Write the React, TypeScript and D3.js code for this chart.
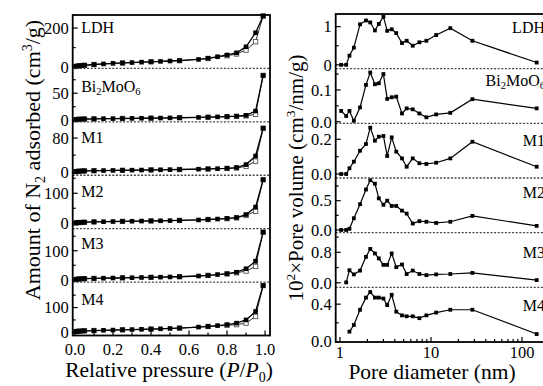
import React from 'react';
import * as d3 from 'd3';

const W = 543;
const H = 386;
const FONT = "'Liberation Serif', 'Times New Roman', Times, Tinos, 'Noto Serif', 'DejaVu Serif', FreeSerif, serif";

// ---------- Left panel: N2 isotherms ----------
const sampleNames = ['LDH', 'Bi2MoO6', 'M1', 'M2', 'M3', 'M4'];
const pAds = [0.005, 0.01, 0.02, 0.03, 0.04, 0.05, 0.1, 0.15, 0.2, 0.25, 0.3, 0.35, 0.4, 0.45, 0.5, 0.55, 0.65, 0.7, 0.75, 0.8, 0.85, 0.9, 0.95, 0.99];
const pDes = [0.99, 0.95, 0.9, 0.85, 0.8, 0.7, 0.55, 0.4, 0.25, 0.1, 0.05, 0.02, 0.005];

const adsLDH = [3, 5, 6, 7, 8, 9, 13, 16, 19, 21, 23, 25, 27, 29, 31, 33, 39, 45, 53, 62, 73, 104, 176, 262];
const adsBi = [1, 1.5, 1.8, 2, 2.1, 2.2, 2.5, 2.8, 3, 3.2, 3.4, 3.6, 3.8, 4, 4.3, 4.6, 5.2, 5.6, 6.2, 6.8, 7.5, 9, 17, 83];
const adsM1 = [1.5, 2, 2.5, 2.8, 3, 3.2, 3.6, 4, 4.3, 4.6, 4.9, 5.2, 5.5, 5.8, 6.1, 6.4, 7.2, 7.7, 8.4, 9.2, 11, 18, 38, 103];
const adsM2 = [1, 2, 2.5, 3, 3.3, 3.6, 4.5, 5.2, 5.8, 6.3, 6.8, 7.3, 7.8, 8.3, 8.8, 9.5, 11, 12.5, 14, 16, 19, 29, 54, 145];
const adsM3 = [1, 2, 2.5, 3, 3.3, 3.6, 4.5, 5.3, 6, 6.6, 7.2, 7.8, 8.4, 9, 9.6, 10.4, 13, 15, 18, 21, 26, 38, 64, 164];
const adsM4 = [3, 4, 4.5, 5, 5.5, 6, 7, 8, 9, 10, 11, 12, 13, 14, 15.5, 17, 21, 23.5, 27, 31, 37, 50, 84, 189];

const desLDH = [262, 130, 87, 67, 58, 44, 33, 27, 21, 13, 9, 6, 3];
const desBi = [83, 11, 8, 7, 6.6, 5.5, 4.6, 3.8, 3.2, 2.5, 2.2, 1.8, 1];
const desM1 = [103, 26, 14, 10, 9, 7.7, 6.4, 5.5, 4.6, 3.6, 3.2, 2.5, 1.5];
const desM2 = [145, 40, 26, 18, 15.5, 12.5, 9.5, 7.8, 6.3, 4.5, 3.6, 2.5, 1];
const desM3 = [164, 46, 30, 24, 20, 15, 10.4, 8.4, 6.6, 4.5, 3.6, 2.5, 1];
const desM4 = [189, 64, 37, 31, 28, 23.5, 17, 13, 10, 7, 6, 4.5, 3];

const adsAll = [adsLDH, adsBi, adsM1, adsM2, adsM3, adsM4];
const desAll = [desLDH, desBi, desM1, desM2, desM3, desM4];

const leftDomains = [[-7, 267], [-3, 96], [-7, 118], [-18, 160], [-8, 176], [-13, 203]];
const leftMajor = [[0, 200], [0, 50], [0, 80], [0, 100], [0, 100], [0, 100]];
const leftMinor = [[100], [25, 75], [40], [50, 150], [50, 150], [50, 150]];
const leftXMajor = [0, 0.2, 0.4, 0.6, 0.8, 1.0];
const leftXMinor = [0.1, 0.3, 0.5, 0.7, 0.9];

// ---------- Right panel: pore size distribution ----------
const poreD = [1.03, 1.17, 1.27, 1.42, 1.66, 1.93, 2.15, 2.42, 2.67, 3.0, 3.3, 3.7, 4.15, 4.8, 5.4, 6.3, 7.45, 8.9, 11.4, 16.3, 28.5, 145];
const pvLDH = [0, 0, 0.24, 0.45, 1.06, 1.16, 1.11, 0.9, 1.07, 1.26, 0.89, 0.93, 0.83, 0.57, 0.63, 0.5, 0.59, 0.63, 0.78, 0.96, 0.63, 0.06];
const pvBi = [0.034, 0.018, 0.034, 0.003, 0.045, 0.116, 0.155, 0.118, 0.121, 0.15, 0.072, 0.077, 0.079, 0.026, 0.042, 0.039, 0.026, 0.014, 0.023, 0.028, 0.071, 0.042];
const pvM1 = [0, 0, 0.033, 0.071, 0.134, 0.173, 0.267, 0.192, 0.215, 0.219, 0.104, 0.211, 0.129, 0.09, 0.042, 0.09, 0.062, 0.058, 0.065, 0.09, 0.186, 0.042];
const pvM2 = [0, 0, 0.02, 0.2, 0.44, 0.69, 0.85, 0.79, 0.54, 0.43, 0.5, 0.41, 0.41, 0.33, 0.28, 0.11, 0.15, 0.14, 0.12, 0.14, 0.24, 0.07];
const pvM3 = [null, 0.01, 0.33, 0.22, 0.32, 0.68, 0.89, 0.77, 0.64, 0.47, 0.47, 0.77, 0.41, 0.48, 0.23, 0.32, 0.23, 0.2, 0.22, 0.23, 0.26, 0.07];
const pvM4 = [null, null, 0.106, 0.177, 0.34, 0.47, 0.53, 0.47, 0.47, 0.46, 0.39, 0.5, 0.32, 0.28, 0.27, 0.27, 0.25, 0.28, 0.31, 0.34, 0.34, 0.08];
const pvAll = [pvLDH, pvBi, pvM1, pvM2, pvM3, pvM4];

const rightDomains = [[-0.1, 1.33], [-0.005, 0.167], [-0.023, 0.292], [-0.046, 0.887], [-0.12, 1.316], [-0.005, 0.58]];
const rightMajor = [[0, 1], [0, 0.1], [0, 0.2], [0, 0.5], [0, 0.8], [0, 0.4]];
const rightMajorLabels = [['0', '1'], ['0.0', '0.1'], ['0.0', '0.2'], ['0.0', '0.5'], ['0.0', '0.8'], ['0.0', '0.4']];
const rightMinor = [[0.5], [0.05, 0.15], [0.1], [0.25, 0.75], [0.4, 1.2], [0.2]];
const rightXMajor = [1, 10, 100];
const rightXMinor = [2, 3, 4, 5, 6, 7, 8, 9, 20, 30, 40, 50, 60, 70, 80, 90];

// layout
const LP = { x0: 72.7, x1: 270, top: 15, bottom: 335.5 };
const RP = { x0: 335.7, x1: 549, top: 14, bottom: 342 };
const leftLabelDy = [18, 24, 21, 22, 20, 23];
const rightLabelDy = [19, 17, 23, 20, 25, 24];

function SampleLabel({ name, x, y, anchor }: { name: string; x: number; y: number; anchor: string }) {
  if (name === 'Bi2MoO6') {
    return (
      <text x={x} y={y} fontSize={16} fontFamily={FONT} textAnchor={anchor}>
        Bi<tspan fontSize={10.5} dy={3}>2</tspan>
        <tspan dy={-3}>MoO</tspan>
        <tspan fontSize={10.5} dy={3}>6</tspan>
      </text>
    );
  }
  return (
    <text x={x} y={y} fontSize={16} fontFamily={FONT} textAnchor={anchor}>
      {name}
    </text>
  );
}

export default function App() {
  const xL = d3.scaleLinear().domain([-0.012, 1.026]).range([LP.x0, LP.x1]);
  const hL = (LP.bottom - LP.top) / 6;
  const xR = d3.scaleLog().domain([0.897, 198]).range([RP.x0, RP.x1]);
  const hR = (RP.bottom - RP.top) / 6;

  const leftPanels = sampleNames.map((name, i) => {
    const top = LP.top + i * hL;
    const bottom = top + hL;
    const y = d3.scaleLinear().domain(leftDomains[i]).range([bottom, top]);
    const ads = pAds.map((p, k) => [xL(p), y(adsAll[i][k])] as [number, number]);
    const des = pDes.map((p, k) => [xL(p), y(desAll[i][k])] as [number, number]);
    const line = d3.line();
    return (
      <g key={'L' + name}>
        <path d={line(des) || ''} fill="none" stroke="#333" strokeWidth={1} />
        {des.map((d, k) => (
          <rect key={'d' + k} x={d[0] - 2.2} y={d[1] - 2.2} width={4.4} height={4.4} fill="#fff" stroke="#555" strokeWidth={0.9} />
        ))}
        <path d={line(ads) || ''} fill="none" stroke="#000" strokeWidth={1.3} />
        {ads.map((d, k) => (
          <rect key={'a' + k} x={d[0] - 2.3} y={d[1] - 2.3} width={4.6} height={4.6} fill="#000" />
        ))}
        {leftMajor[i].map((v) => (
          <g key={'mj' + v}>
            <line x1={LP.x0} x2={LP.x0 + 5} y1={y(v)} y2={y(v)} stroke="#000" strokeWidth={1.2} />
            <text x={LP.x0 - 4} y={y(v)} dy="0.35em" textAnchor="end" fontSize={16.5} fontFamily={FONT}>
              {v}
            </text>
          </g>
        ))}
        {leftMinor[i].map((v) => (
          <line key={'mn' + v} x1={LP.x0} x2={LP.x0 + 3} y1={y(v)} y2={y(v)} stroke="#000" strokeWidth={1.2} />
        ))}
        {i > 0 && (
          <line x1={LP.x0} x2={LP.x1} y1={top} y2={top} stroke="#444" strokeWidth={1.3} strokeDasharray="2,1.6" />
        )}
        <SampleLabel name={name} x={LP.x0 + 8.5} y={top + leftLabelDy[i]} anchor="start" />
      </g>
    );
  });

  const rightPanels = sampleNames.map((name, i) => {
    const top = RP.top + i * hR;
    const bottom = top + hR;
    const y = d3.scaleLinear().domain(rightDomains[i]).range([bottom, top]);
    const pts = poreD
      .map((d, k) => ({ d, v: pvAll[i][k] }))
      .filter((o) => o.v !== null)
      .map((o) => [xR(o.d), y(o.v as number)] as [number, number]);
    const line = d3.line();
    return (
      <g key={'R' + name}>
        <path d={line(pts) || ''} fill="none" stroke="#000" strokeWidth={1.2} />
        {pts.map((d, k) => (
          <rect key={'p' + k} x={d[0] - 1.9} y={d[1] - 1.9} width={3.8} height={3.8} fill="#000" />
        ))}
        {rightMajor[i].map((v, k) => (
          <g key={'mj' + v}>
            <line x1={RP.x0} x2={RP.x0 + 5} y1={y(v)} y2={y(v)} stroke="#000" strokeWidth={1.2} />
            <text x={RP.x0 - 4} y={y(v)} dy="0.35em" textAnchor="end" fontSize={16.5} fontFamily={FONT}>
              {rightMajorLabels[i][k]}
            </text>
          </g>
        ))}
        {rightMinor[i].map((v) => (
          <line key={'mn' + v} x1={RP.x0} x2={RP.x0 + 3} y1={y(v)} y2={y(v)} stroke="#000" strokeWidth={1.2} />
        ))}
        {i > 0 && (
          <line x1={RP.x0} x2={RP.x1} y1={top} y2={top} stroke="#444" strokeWidth={1.3} strokeDasharray="2,1.6" />
        )}
        <SampleLabel name={name} x={545} y={top + rightLabelDy[i]} anchor="end" />
      </g>
    );
  });

  return (
    <svg
      width={W}
      height={H}
      viewBox={`0 0 ${W} ${H}`}
      style={{ position: 'absolute', left: 0, top: 0, background: '#fff' }}
    >
      <rect x={0} y={0} width={W} height={H} fill="#fff" />
      {/* Left panel */}
      {leftPanels}
      {leftXMajor.map((v) => (
        <g key={'lx' + v}>
          <line x1={xL(v)} x2={xL(v)} y1={LP.bottom} y2={LP.bottom - 5} stroke="#000" strokeWidth={1.2} />
          <text x={xL(v)} y={LP.bottom + 19} textAnchor="middle" fontSize={16.5} fontFamily={FONT}>
            {v.toFixed(1)}
          </text>
        </g>
      ))}
      {leftXMinor.map((v) => (
        <line key={'lxm' + v} x1={xL(v)} x2={xL(v)} y1={LP.bottom} y2={LP.bottom - 3} stroke="#000" strokeWidth={1.2} />
      ))}
      <rect x={LP.x0} y={LP.top} width={LP.x1 - LP.x0} height={LP.bottom - LP.top} fill="none" stroke="#000" strokeWidth={1.8} />
      <text x={169} y={377} textAnchor="middle" fontSize={21.5} fontFamily={FONT}>
        Relative pressure (<tspan fontStyle="italic">P</tspan>/<tspan fontStyle="italic">P</tspan>
        <tspan fontSize={14} dy={5}>0</tspan>
        <tspan dy={-5}>)</tspan>
      </text>
      <text transform="translate(40,160) rotate(-90)" textAnchor="middle" fontSize={22} fontFamily={FONT}>
        Amount of N<tspan fontSize={14} dy={5}>2</tspan>
        <tspan dy={-5}> adsorbed (cm</tspan>
        <tspan fontSize={14} dy={-8}>3</tspan>
        <tspan dy={8}>/g)</tspan>
      </text>

      {/* Right panel */}
      {rightPanels}
      {rightXMajor.map((v) => (
        <g key={'rx' + v}>
          <line x1={xR(v)} x2={xR(v)} y1={RP.bottom} y2={RP.bottom - 5} stroke="#000" strokeWidth={1.2} />
          <text x={xR(v)} y={RP.bottom + 16} textAnchor="middle" fontSize={16.5} fontFamily={FONT}>
            {v}
          </text>
        </g>
      ))}
      {rightXMinor.map((v) => (
        <line key={'rxm' + v} x1={xR(v)} x2={xR(v)} y1={RP.bottom} y2={RP.bottom - 3} stroke="#000" strokeWidth={1.2} />
      ))}
      <rect x={RP.x0} y={RP.top} width={RP.x1 - RP.x0} height={RP.bottom - RP.top} fill="none" stroke="#000" strokeWidth={1.8} />
      <text x={432} y={379} textAnchor="middle" fontSize={21.5} fontFamily={FONT}>
        Pore diameter (nm)
      </text>
      <text transform="translate(303,178) rotate(-90)" textAnchor="middle" fontSize={21} fontFamily={FONT}>
        10<tspan fontSize={13.5} dy={-8}>2</tspan>
        <tspan dy={8}>×Pore volume (cm</tspan>
        <tspan fontSize={13.5} dy={-8}>3</tspan>
        <tspan dy={8}>/nm/g)</tspan>
      </text>
    </svg>
  );
}
